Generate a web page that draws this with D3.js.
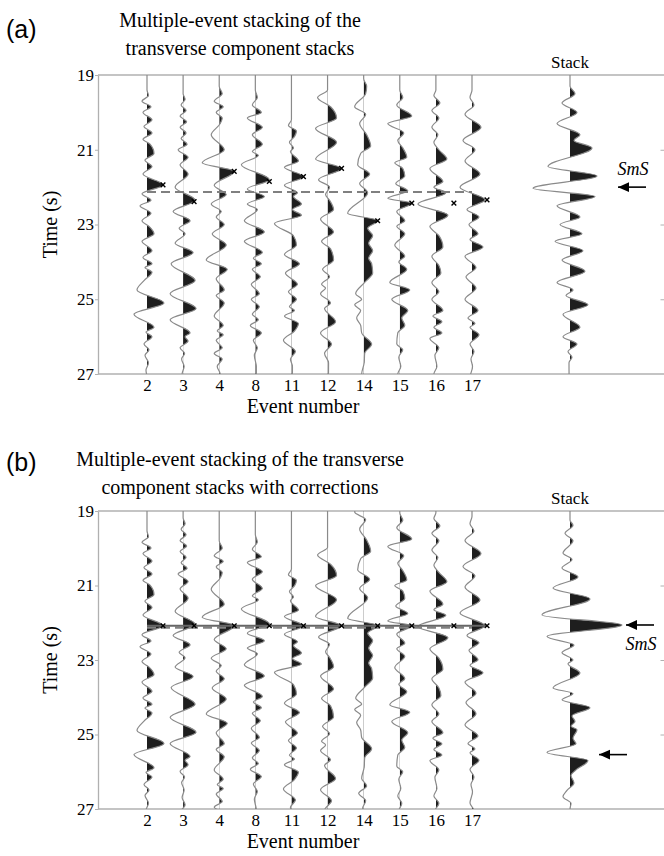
<!DOCTYPE html>
<meta charset="utf-8">
<html>
<head>
<title>multiple-event stacking</title>
<style>
body { margin: 0; background: #fff; }
svg text { font-family: "Liberation Serif", "Times New Roman", serif; fill: #000; }
.panel-label { font-family: "Liberation Sans", Arial, sans-serif; font-size: 25px; }
.title { font-size: 20px; }
.axis-title { font-size: 20px; }
.tick text { font-size: 17px; font-family: "Liberation Serif", serif; }
.sms { font-style: italic; font-size: 18px; }
</style>
</head>
<body>
<svg id="chart" width="664" height="856"></svg>

<script src="https://cdn.jsdelivr.net/npm/d3@7"></script>
<script>

const events = ["2", "3", "4", "8", "11", "12", "14", "15", "16", "17"]
const timeTicks = [19, 21, 23, 25, 27]

// picked arrival times (s) and amplitude at the pick, panel (a)
const picks = [21.94, 22.39, 21.58, 21.85, 21.72, 21.50, 22.90, 22.43, 22.43, 22.34]
const pickAmp = [1.6, 1.1, 1.5, 1.4, 1.2, 1.4, 1.4, 1.2, 1.8, 1.5]
const alignedTime = 22.08
const refTime = 22.13

// traces: [time (s), amplitude]
const ev2 = [[17.5,0],[19.4,0],[19.55,0.15],[19.7,-0.5],[19.85,0.4],[20.0,-0.4],[20.2,0.5],[20.38,-0.3],[20.55,0.5],[20.72,-0.4],[20.85,0.3],[21.1,0.7],[21.28,-0.2],[21.45,0.5],[21.65,-0.4],[21.94,1.6],[22.18,-0.5],[22.35,0.4],[22.5,-0.7],[22.7,0.4],[22.9,-0.5],[23.05,0.2],[23.25,0.7],[23.45,-0.5],[23.7,0.5],[23.88,-0.4],[24.05,0.5],[24.15,-0.2],[24.28,0.5],[24.5,-0.3],[24.75,-1.0],[25.1,1.7],[25.4,-1.3],[25.75,0.7],[25.88,-0.1],[26.0,0.5],[26.2,-0.3],[26.35,0.2],[26.5,-0.2],[26.7,0.15],[26.9,-0.1],[27.2,0.1],[28.2,0]]
const ev3 = [[17.5,0],[19.5,0],[19.65,0.2],[19.8,-0.2],[19.95,0.3],[20.1,-0.3],[20.25,0.35],[20.4,-0.3],[20.55,0.3],[20.7,-0.2],[20.85,0.4],[21.0,-0.5],[21.2,0.5],[21.4,-0.3],[21.65,0.5],[22.0,-0.8],[22.35,1.2],[22.65,-1.0],[22.9,0.7],[23.1,-0.4],[23.25,0.2],[23.5,-0.8],[23.75,1.0],[24.05,-1.2],[24.5,1.2],[24.85,-1.3],[25.25,1.3],[25.55,-1.3],[25.9,0.7],[26.0,0.2],[26.12,0.5],[26.3,-0.3],[26.45,0.15],[26.6,-0.15],[26.8,0.1],[27.0,-0.1],[27.2,0.2],[27.4,-0.3],[27.6,0.1],[28.2,0]]
const ev4 = [[17.5,0],[19.3,0],[19.5,0.3],[19.7,-0.5],[19.85,0.4],[20.0,-0.3],[20.15,0.3],[20.3,0.1],[20.6,-0.8],[21.0,0.5],[21.35,-1.7],[21.58,1.5],[21.95,-0.5],[22.2,0.7],[22.45,-0.8],[22.65,0.2],[22.8,-0.3],[23.0,0.5],[23.25,-0.7],[23.55,0.7],[23.95,-1.3],[24.2,0.8],[24.45,-0.3],[24.75,0.5],[24.9,-0.3],[25.1,0.5],[25.45,-0.5],[25.7,0.4],[25.85,-0.2],[25.95,0.4],[26.1,-0.3],[26.3,0.3],[26.45,-0.5],[26.6,0.3],[26.8,-0.2],[27.0,0.1],[28.2,0]]
const ev8 = [[17.5,0],[19.4,0],[19.6,0.2],[19.8,-0.3],[20.0,0.6],[20.15,-0.8],[20.4,0.7],[20.6,-0.3],[20.85,0.7],[21.05,-0.3],[21.15,0.3],[21.4,-1.4],[21.8,1.4],[22.05,-0.8],[22.25,0.9],[22.45,-0.8],[22.6,0.2],[22.9,-1.1],[23.2,0.9],[23.45,-1.1],[23.75,0.7],[23.9,-0.2],[24.05,0.6],[24.2,-0.3],[24.4,0.5],[24.6,-0.4],[24.85,0.4],[25.0,-0.4],[25.2,0.4],[25.4,-0.3],[25.55,0.3],[25.7,-0.5],[25.9,0.6],[26.1,-0.2],[26.3,0.2],[26.5,-0.1],[26.8,0.1],[28.2,0]]
const ev11 = [[17.5,0],[20.2,0],[20.35,-0.3],[20.5,0.5],[20.65,0.3],[20.8,-0.2],[20.95,0.2],[21.05,-0.1],[21.3,0.7],[21.47,-0.7],[21.72,1.2],[21.95,-0.7],[22.15,0.6],[22.25,0.2],[22.45,1.0],[22.6,0.1],[22.75,1.0],[22.97,-1.7],[23.3,0.2],[23.55,0.5],[23.8,-0.7],[24.05,0.8],[24.3,-0.6],[24.6,0.6],[24.8,-0.3],[25.0,0.5],[25.2,-0.2],[25.3,0.3],[25.45,-0.7],[25.65,0.7],[25.85,0.3],[26.1,-0.8],[26.4,0.4],[26.6,-0.1],[26.8,0.1],[28.2,0]]
const ev12 = [[17.5,0],[19.4,0],[19.6,-1.0],[19.85,0.3],[20.15,0.9],[20.43,-1.2],[20.8,0.9],[21.25,-1.2],[21.5,1.4],[21.8,-0.9],[22.0,0.2],[22.2,-0.2],[22.35,0.2],[22.6,0.6],[22.85,-0.7],[23.2,0.6],[23.45,-0.6],[23.65,0.3],[23.95,0.6],[24.2,-0.5],[24.4,0.2],[24.6,-0.6],[24.7,-0.2],[24.85,-0.7],[25.1,0.3],[25.25,-0.3],[25.6,0.8],[25.9,-0.7],[26.2,0.4],[26.45,-0.3],[26.7,0.1],[28.2,0]]
const ev14 = [[17.5,0],[19.1,0],[19.3,0.3],[19.5,0.2],[19.85,-0.9],[20.05,0.2],[20.3,-0.4],[20.6,0.3],[20.9,0.7],[21.1,-0.3],[21.4,-0.6],[21.65,0.6],[21.9,-0.4],[22.15,0.4],[22.7,-1.6],[22.9,1.4],[23.1,0.4],[23.3,0.9],[23.5,0.5],[23.7,0.9],[23.9,0.5],[24.05,0.8],[24.3,0.9],[24.55,0.1],[24.85,-0.8],[25.0,-0.2],[25.15,-0.9],[25.3,-0.3],[25.5,-0.7],[25.7,-0.3],[25.9,-0.2],[26.2,0.8],[26.45,0.1],[26.7,0.05],[27.0,-0.2],[27.2,0.3],[27.4,-0.5],[27.6,0.2],[27.8,-0.1],[28.2,0]]
const ev15 = [[17.5,0],[19.4,0],[19.6,0.3],[19.8,-0.3],[20.1,1.2],[20.3,-1.2],[20.55,0.4],[20.75,-0.2],[20.95,0.3],[21.2,0.7],[21.35,-0.5],[21.5,0.3],[21.7,0.5],[21.9,-0.4],[22.1,0.8],[22.3,-1.2],[22.43,1.2],[22.65,-0.3],[22.9,0.5],[23.05,-0.3],[23.25,0.5],[23.55,-0.5],[23.85,0.5],[24.0,-0.1],[24.2,0.7],[24.55,-1.0],[24.75,1.0],[25.0,-0.8],[25.3,0.8],[25.5,0.2],[25.7,0.5],[25.9,-0.2],[26.2,-0.3],[26.35,0.3],[26.55,-0.1],[26.8,0.1],[27.0,-0.2],[27.2,0.2],[27.4,-0.1],[28.2,0]]
const ev16 = [[17.5,0],[19.4,0],[19.55,-0.2],[19.75,0.4],[19.95,-0.4],[20.15,0.3],[20.4,-0.4],[20.6,0.2],[20.8,-0.2],[21.0,0.3],[21.25,1.1],[21.5,-0.6],[21.85,0.7],[22.0,-0.2],[22.15,1.0],[22.45,-1.8],[22.75,1.2],[23.05,-0.6],[23.3,0.3],[23.6,0.7],[23.85,-0.4],[24.1,0.3],[24.3,0.5],[24.55,-0.4],[24.8,0.3],[25.0,-0.4],[25.3,0.7],[25.45,-0.3],[25.6,0.6],[25.75,-0.2],[25.9,0.6],[26.05,-0.6],[26.3,0.3],[26.5,-0.1],[26.8,0.1],[27.0,-0.2],[27.2,0.3],[27.4,-0.1],[28.2,0]]
const ev17 = [[17.5,0],[19.4,0],[19.6,-0.2],[19.8,0.2],[20.05,-0.7],[20.4,0.9],[20.75,-0.9],[21.0,0.3],[21.3,-0.7],[21.65,0.8],[22.0,-1.2],[22.34,1.3],[22.6,-0.5],[22.8,0.7],[23.0,-0.3],[23.25,0.6],[23.4,-0.2],[23.6,1.1],[23.85,-0.7],[24.15,0.4],[24.4,-0.6],[24.7,0.4],[25.0,-0.7],[25.3,0.6],[25.5,-0.4],[25.65,0.3],[25.75,-0.2],[25.95,0.7],[26.2,-0.2],[26.4,0.2],[26.6,-0.1],[26.8,0.05],[27.1,-0.2],[27.3,0.2],[28.2,0]]
const traces = [ev2, ev3, ev4, ev8, ev11, ev12, ev14, ev15, ev16, ev17]

const stackA = [[17.5,0],[19.3,0],[19.5,0.5],[19.75,-0.8],[20.0,0.7],[20.3,-1.3],[20.6,1.0],[20.75,0.4],[20.95,2.2],[21.45,-2.2],[21.7,2.7],[22.03,-3.7],[22.25,2.5],[22.5,-1.3],[22.8,1.0],[23.0,-1.0],[23.25,1.2],[23.45,-1.5],[23.7,1.3],[23.95,-0.8],[24.25,1.5],[24.55,-1.3],[24.75,0.3],[24.9,-0.4],[25.15,1.8],[25.4,-0.7],[25.75,1.0],[26.0,-0.7],[26.2,0.7],[26.4,-0.2],[26.55,0.2],[26.7,-0.1],[28.2,0]]
const stackB = [[17.5,0],[19.25,0],[19.38,0.3],[19.6,-0.5],[19.8,0.3],[20.13,-0.7],[20.3,0.2],[20.53,-0.8],[20.77,0.8],[21.07,-1.7],[21.36,2.0],[21.79,-2.8],[22.06,5.2],[22.37,-2.3],[22.6,0.4],[22.8,-0.8],[23.0,0.3],[23.1,-0.2],[23.35,1.0],[23.75,-1.7],[23.9,0.3],[24.07,-0.8],[24.28,2.0],[24.5,0.2],[24.65,0.5],[24.78,0.1],[24.87,0.7],[25.1,0.3],[25.25,0.6],[25.48,-2.3],[25.7,1.8],[25.95,0.6],[26.1,0.1],[26.3,0.4],[26.5,-0.3],[26.67,-0.7],[26.85,0.1],[27.0,0],[28.2,0]]

// arrows beside the stack: time, amplitude of the tip
const arrowsA = [{t: 22.0, amp: 4.7, label: "SmS", above: true}]
const arrowsB = [{t: 22.06, amp: 5.5, label: "SmS", above: false}, {t: 25.54, amp: 2.8}]

const svg = d3.select("#chart")
const defs = svg.append("defs")
defs.append("marker")
  .attr("id", "head")
  .attr("viewBox", "0 -5 10 10")
  .attr("refX", 10).attr("refY", 0)
  .attr("markerWidth", 11).attr("markerHeight", 11)
  .attr("markerUnits", "userSpaceOnUse")
  .attr("orient", "auto")
  .append("path").attr("d", "M0,-4.5L10,0L0,4.5Z").attr("fill", "#000")

const x = d3.scalePoint().domain(events).range([147, 472])
const stackX = 570
const amp = d3.scaleLinear().domain([0, 1]).range([0, 10])
const left = 98, right = 664
let clipId = 0

function drawPanel(cfg) {
  const y = d3.scaleLinear().domain([19, 27]).range([cfg.top, cfg.bottom])
  const g = svg.append("g")

  g.append("text").attr("class", "panel-label")
    .attr("x", 6).attr("y", cfg.labelY).text(cfg.label)
  cfg.title.forEach((s, i) => {
    g.append("text").attr("class", "title")
      .attr("x", 240).attr("y", cfg.titleY[i])
      .attr("text-anchor", "middle").text(s)
  })
  g.append("text").attr("class", "title").style("font-size", "17px")
    .attr("x", stackX).attr("y", cfg.top - 7)
    .attr("text-anchor", "middle").text("Stack")

  // frame
  const frame = g.append("g").attr("stroke", "#b0b0b0").attr("stroke-width", 1.3)
  frame.append("line").attr("x1", left).attr("x2", right).attr("y1", cfg.top).attr("y2", cfg.top)
  frame.append("line").attr("x1", left).attr("x2", right).attr("y1", cfg.bottom).attr("y2", cfg.bottom)

  const ya = g.append("g").attr("transform", `translate(${left},0)`)
    .call(d3.axisLeft(y).tickValues(timeTicks).tickFormat(d3.format("d")).tickSizeInner(3).tickSizeOuter(0).tickPadding(1))
  ya.select(".domain").attr("stroke", "#b0b0b0").attr("stroke-width", 1.3)
  ya.selectAll(".tick line").attr("stroke", "#b0b0b0")
  ya.selectAll(".tick text").style("font-size", "17px")

  const yr = g.append("g").attr("transform", `translate(${right + 0.5},0)`)
    .call(d3.axisLeft(y).tickValues(timeTicks.slice(1, -1)).tickFormat("").tickSizeInner(4).tickSizeOuter(0))
  yr.select(".domain").remove()
  yr.selectAll(".tick line").attr("stroke", "#b0b0b0")

  const xa = g.append("g").attr("transform", `translate(0,${cfg.bottom})`)
    .call(d3.axisBottom(x).tickSize(0).tickPadding(5))
  xa.select(".domain").remove()
  xa.selectAll(".tick text").style("font-size", "17px")

  g.append("text").attr("class", "axis-title")
    .attr("transform", `translate(57,${(cfg.top + cfg.bottom) / 2}) rotate(-90)`)
    .attr("text-anchor", "middle").text("Time (s)")
  g.append("text").attr("class", "axis-title")
    .attr("x", 303).attr("y", cfg.bottom + 39)
    .attr("text-anchor", "middle").text("Event number")

  // clip to the time window
  const pid = "panel" + (clipId++)
  defs.append("clipPath").attr("id", pid).append("rect")
    .attr("x", left).attr("y", cfg.top).attr("width", right - left).attr("height", cfg.bottom - cfg.top)
  const plot = g.append("g").attr("clip-path", `url(#${pid})`)

  function wiggle(data, cx) {
    const tid = "pos" + (clipId++)
    defs.append("clipPath").attr("id", tid).append("rect")
      .attr("x", cx).attr("y", cfg.top).attr("width", 80).attr("height", cfg.bottom - cfg.top)
    const area = d3.area().curve(d3.curveMonotoneY)
      .y(d => y(d[0])).x0(cx).x1(d => cx + amp(d[1]))
    const line = d3.line().curve(d3.curveMonotoneY)
      .y(d => y(d[0])).x(d => cx + amp(d[1]))
    plot.append("path").attr("clip-path", `url(#${tid})`)
      .attr("d", area(data)).attr("fill", "#1e1e1e")
    plot.append("path").attr("d", line(data))
      .attr("fill", "none").attr("stroke", "#8a8a8a").attr("stroke-width", 1.2)
  }

  cfg.traces.forEach((tr, i) => wiggle(tr, x(events[i])))
  wiggle(cfg.stack, stackX)

  // reference lines
  g.append("line")
    .attr("x1", x(events[0])).attr("x2", x(events[events.length - 1]))
    .attr("y1", y(refTime)).attr("y2", y(refTime))
    .attr("stroke", "#808080").attr("stroke-width", 2.2).attr("stroke-dasharray", "9,5")
  if (cfg.aligned) {
    g.append("line")
      .attr("x1", x(events[0])).attr("x2", x(events[events.length - 1]) + amp(pickAmp[pickAmp.length - 1]))
      .attr("y1", y(alignedTime)).attr("y2", y(alignedTime))
      .attr("stroke", "#666").attr("stroke-width", 2)
  }

  // picks
  const sym = d3.symbol().type(d3.symbolTimes || d3.symbolCross).size(16)
  g.selectAll("path.pick").data(events).join("path").attr("class", "pick")
    .attr("transform", (d, i) => `translate(${x(d) + amp(pickAmp[i])},${y(cfg.pickTimes[i])})`)
    .attr("d", sym).attr("stroke", "#000").attr("stroke-width", 1.4).attr("fill", "#000")

  // arrows
  cfg.arrows.forEach(a => {
    const tip = stackX + amp(a.amp) + 1
    g.append("line")
      .attr("x1", tip + 28).attr("x2", tip).attr("y1", y(a.t)).attr("y2", y(a.t))
      .attr("stroke", "#000").attr("stroke-width", 1.6).attr("marker-end", "url(#head)")
    if (a.label) {
      g.append("text").attr("class", "sms")
        .attr("x", tip + 15).attr("y", a.above ? y(a.t) - 12 : y(a.t) + 25)
        .attr("text-anchor", "middle").text(a.label)
    }
  })
}

drawPanel({
  top: 75, bottom: 374, label: "(a)", labelY: 38,
  title: ["Multiple-event stacking of the", "transverse component stacks"], titleY: [27, 55],
  traces: traces, stack: stackA, pickTimes: picks, arrows: arrowsA, aligned: false
})

const corrected = traces.map((tr, i) => tr.map(d => [d[0] + alignedTime - picks[i], d[1]]))
drawPanel({
  top: 511, bottom: 809, label: "(b)", labelY: 471,
  title: ["Multiple-event stacking of the transverse", "component stacks with corrections"], titleY: [466, 494],
  traces: corrected, stack: stackB, pickTimes: events.map(() => alignedTime), arrows: arrowsB, aligned: true
})

</script>
</body>
</html>
